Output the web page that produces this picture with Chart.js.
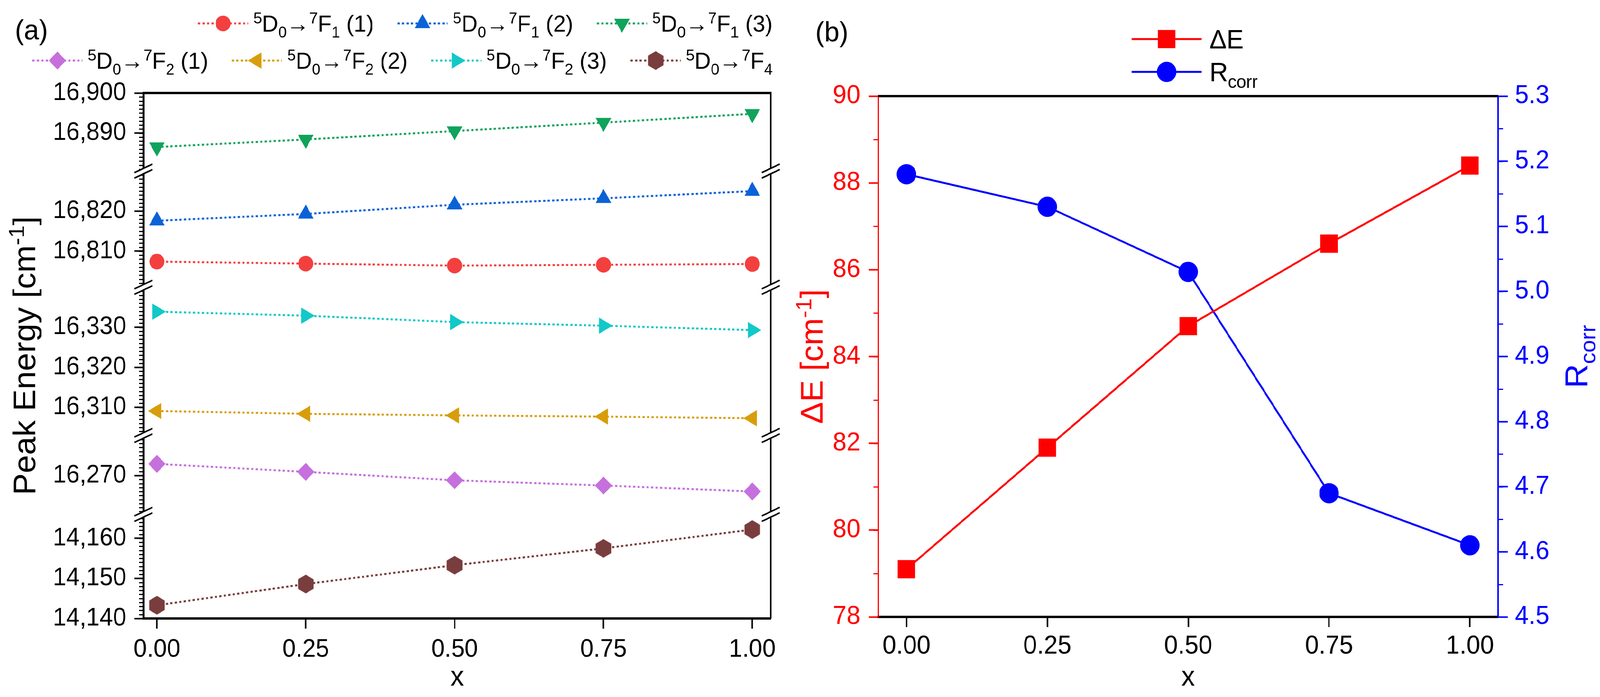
<!DOCTYPE html>
<html>
<head>
<meta charset="utf-8">
<script src="https://cdn.jsdelivr.net/npm/chart.js@4.4.1/dist/chart.umd.min.js"></script>
<style>
  html, body { margin: 0; padding: 0; background: #fff; overflow: hidden; }
  #wrap { position: relative; width: 4270px; height: 1784px; overflow: hidden; transform-origin: 0 0; }
  #chartA { position: absolute; left: 0; top: 0; }
  #chartB { position: absolute; left: 2100px; top: 0; }
</style>
</head>
<body>
<div id="wrap">
  <canvas id="chartA" width="2100" height="1784"></canvas>
  <canvas id="chartB" width="2170" height="1784"></canvas>
</div>
<script>
const FONT = '"Liberation Sans", Arial, Helvetica, sans-serif';

// ---- panel (a): peak energies vs x
const xValues = [0, 0.25, 0.5, 0.75, 1.0];
const seriesLabels = [
  '^{5}D_{0}→^{7}F_{1} (1)', '^{5}D_{0}→^{7}F_{1} (2)', '^{5}D_{0}→^{7}F_{1} (3)',
  '^{5}D_{0}→^{7}F_{2} (1)', '^{5}D_{0}→^{7}F_{2} (2)', '^{5}D_{0}→^{7}F_{2} (3)',
  '^{5}D_{0}→^{7}F_{4}'
];
const f1Peak1 = [16807.4, 16806.9, 16806.4, 16806.6, 16806.8];
const f1Peak2 = [16817.6, 16819.3, 16821.6, 16823.2, 16825.0];
const f1Peak3 = [16886.5, 16888.4, 16890.5, 16892.6, 16894.8];
const f2Peak1 = [16272.9, 16270.9, 16268.8, 16267.5, 16266.0];
const f2Peak2 = [16309.1, 16308.4, 16308.0, 16307.7, 16307.3];
const f2Peak3 = [16333.9, 16332.9, 16331.3, 16330.4, 16329.3];
const f4Peak = [14143.3, 14148.6, 14153.3, 14157.5, 14162.2];

// broken y axis, top segment first
const segmentRanges = [[16880.5, 16900], [16801, 16830], [16303, 16340], [16260.3, 16280], [14140, 14166]];
const segmentTicks = [[16890, 16900], [16810, 16820], [16310, 16320, 16330], [16270], [14140, 14150, 14160]];
const xTicks = [0, 0.25, 0.5, 0.75, 1];

// ---- panel (b)
const deltaE = [79.1, 81.9, 84.7, 86.6, 88.4];
const rCorr = [5.18, 5.13, 5.03, 4.69, 4.61];
const deltaETicks = [78, 80, 82, 84, 86, 88, 90];
const rCorrTicks = [4.5, 4.6, 4.7, 4.8, 4.9, 5.0, 5.1, 5.2, 5.3];
const labelsB = ['ΔE', 'R_{corr}'];

// the figure is laid out on a 4270 x 1784 grid; squeeze it if the window is smaller
(function fitPage() {
  const sx = Math.min(1, window.innerWidth / 4270);
  const sy = Math.min(1, window.innerHeight / 1784);
  if (sx < 1 || sy < 1) document.getElementById('wrap').style.transform = 'scale(' + sx + ',' + sy + ')';
})();

// ---- helpers
function hexMarker(R, color) {
  const c = document.createElement('canvas');
  const s = Math.ceil(2 * R + 4);
  c.width = s; c.height = s;
  const g = c.getContext('2d');
  g.fillStyle = color;
  g.beginPath();
  for (let i = 0; i < 6; i++) {
    const a = Math.PI / 3 * i - Math.PI / 2;
    const px = s / 2 + R * Math.cos(a), py = s / 2 + R * Math.sin(a);
    if (i) g.lineTo(px, py); else g.moveTo(px, py);
  }
  g.closePath();
  g.fill();
  return c;
}

const drawPoint = (Chart.helpers && Chart.helpers.drawPoint) || function (ctx, o, x, y) {
  ctx.beginPath(); ctx.arc(x, y, o.radius, 0, Math.PI * 2); ctx.fill();
};

function parseRich(str) {
  const runs = [];
  const re = /\^\{([^}]*)\}|_\{([^}]*)\}|([^^_]+)/g;
  let m;
  while ((m = re.exec(str))) {
    if (m[1] !== undefined) runs.push({t: m[1], k: 'sup'});
    else if (m[2] !== undefined) runs.push({t: m[2], k: 'sub'});
    else runs.push({t: m[3], k: 'n'});
  }
  return runs;
}
function runFont(size, k) {
  return (k === 'n' ? size : Math.round(size * 0.68)) + 'px ' + FONT;
}
function richWidth(ctx, str, size) {
  let w = 0;
  for (const r of parseRich(str)) { ctx.font = runFont(size, r.k); w += ctx.measureText(r.t).width; }
  return w;
}
// y is the cap-centre line of the text (in the rotated frame)
function drawRich(ctx, str, x, y, o) {
  const size = o.size;
  ctx.save();
  ctx.translate(x, y);
  if (o.rotation) ctx.rotate(o.rotation);
  ctx.fillStyle = o.color || '#000';
  ctx.textAlign = 'left';
  ctx.textBaseline = 'alphabetic';
  const w = richWidth(ctx, str, size);
  let cx = o.align === 'center' ? -w / 2 : (o.align === 'right' ? -w : 0);
  const base = (o.baseline !== undefined) ? o.baseline : size * 0.358;
  for (const r of parseRich(str)) {
    ctx.font = runFont(size, r.k);
    const dy = r.k === 'sup' ? -size * 0.36 : (r.k === 'sub' ? size * 0.25 : 0);
    ctx.fillText(r.t, cx, base + dy);
    cx += ctx.measureText(r.t).width;
  }
  ctx.restore();
  return w;
}

function drawMinor(chart, id, step, len, color, side) {
  const s = chart.scales[id];
  const ctx = chart.ctx;
  const x0 = side === 'left' ? s.right : s.left;
  const dir = side === 'left' ? -1 : 1;
  ctx.save();
  ctx.strokeStyle = color;
  ctx.lineWidth = 3;
  ctx.beginPath();
  const n0 = Math.ceil(s.min / step - 1e-6), n1 = Math.floor(s.max / step + 1e-6);
  for (let n = n0; n <= n1; n++) {
    const y = Math.round(s.getPixelForValue(n * step)) + 0.5;
    ctx.moveTo(x0, y);
    ctx.lineTo(x0 + dir * len, y);
  }
  ctx.stroke();
  ctx.restore();
}

function drawBreak(ctx, x, y) {
  const hx = 24, dy = 11, g = 7;
  ctx.save();
  ctx.fillStyle = '#fff';
  ctx.beginPath();
  ctx.moveTo(x - hx, y + g + dy); ctx.lineTo(x + hx, y + g - dy);
  ctx.lineTo(x + hx, y - g - dy); ctx.lineTo(x - hx, y - g + dy);
  ctx.closePath();
  ctx.fill();
  ctx.strokeStyle = '#000';
  ctx.lineWidth = 4;
  ctx.beginPath();
  ctx.moveTo(x - hx, y + g + dy); ctx.lineTo(x + hx, y + g - dy);
  ctx.moveTo(x - hx, y - g + dy); ctx.lineTo(x + hx, y - g - dy);
  ctx.stroke();
  ctx.restore();
}

function tickFont(size) { return {family: FONT, size: size}; }

// ---- chart (a)
const hexagon = hexMarker(24, '#7A3D3D');
const seriesValues = [f1Peak1, f1Peak2, f1Peak3, f2Peak1, f2Peak2, f2Peak3, f4Peak];
const styleA = [
  {color: '#F43F3F', point: 'circle', rotation: 0, radius: 20, axis: 's2'},
  {color: '#0B62D6', point: 'triangle', rotation: 0, radius: 24, axis: 's2'},
  {color: '#0FA35C', point: 'triangle', rotation: 180, radius: 24, axis: 's1'},
  {color: '#C670DD', point: 'rectRot', rotation: 0, radius: 23, axis: 's4'},
  {color: '#D89D0A', point: 'triangle', rotation: 270, radius: 24, axis: 's3'},
  {color: '#12C8C8', point: 'triangle', rotation: 90, radius: 24, axis: 's3'},
  {color: '#7A3D3D', point: hexagon, rotation: 0, radius: 24, axis: 's5'}
];

const scalesA = {
  x: {
    type: 'linear', position: 'bottom', min: -0.0225, max: 1.031,
    afterBuildTicks: s => { s.ticks = xTicks.map(v => ({value: v})); },
    afterFit: s => { s.height = 1784 - 1583; },
    border: {display: true, color: '#000', width: 6},
    grid: {display: true, drawOnChartArea: false, drawTicks: true, tickLength: 26, tickWidth: 4, tickColor: '#000'},
    ticks: {color: '#000', font: tickFont(64), padding: 16, maxRotation: 0, autoSkip: false,
      callback: v => Number(v).toFixed(2)}
  }
};
segmentRanges.forEach((r, i) => {
  scalesA['s' + (i + 1)] = {
    type: 'linear', position: 'left', stack: 'energy', stackWeight: r[1] - r[0], weight: 10 - i,
    min: r[0], max: r[1],
    afterBuildTicks: s => { s.ticks = segmentTicks[i].map(v => ({value: v})); },
    afterFit: s => { s.width = 383; },
    border: {display: true, color: '#000', width: 5},
    grid: {display: true, drawOnChartArea: false, drawTicks: true, tickLength: 24, tickWidth: 4, tickColor: '#000'},
    ticks: {color: '#000', font: tickFont(64), padding: 22, autoSkip: false,
      callback: v => Number(v).toLocaleString('en-US')}
  };
});

const decorA = {
  id: 'decorA',
  afterDraw(chart) {
    const ctx = chart.ctx;
    const a = chart.chartArea;
    segmentRanges.forEach((r, i) => drawMinor(chart, 's' + (i + 1), 1, 12, '#000', 'left'));
    ctx.save();
    ctx.strokeStyle = '#000';
    ctx.lineWidth = 6;
    ctx.beginPath(); ctx.moveTo(a.left - 2.5, a.top); ctx.lineTo(a.right + 2, a.top); ctx.stroke();
    ctx.lineWidth = 4;
    ctx.beginPath(); ctx.moveTo(a.right, a.top); ctx.lineTo(a.right, a.bottom); ctx.stroke();
    ctx.restore();
    for (let i = 1; i < segmentRanges.length; i++) {
      const y = chart.scales['s' + i].bottom;
      drawBreak(ctx, a.left, y);
      drawBreak(ctx, a.right, y);
    }
    // legend in two rows, right-aligned
    const rows = [[0, 1, 2], [3, 4, 5, 6]];
    const rowY = [60, 155];
    const size = 60, sample = 134, gap = 14, itemGap = 63, right = 2062;
    rows.forEach((row, ri) => {
      const widths = row.map(i => sample + gap + richWidth(ctx, seriesLabels[i], size));
      let x = right - widths.reduce((p, c) => p + c, 0) - itemGap * (row.length - 1);
      row.forEach((i, k) => {
        const st = styleA[i], y = rowY[ri];
        ctx.save();
        ctx.strokeStyle = st.color; ctx.lineWidth = 5; ctx.setLineDash([6, 6]);
        ctx.beginPath(); ctx.moveTo(x, y); ctx.lineTo(x + sample, y); ctx.stroke();
        ctx.setLineDash([]);
        ctx.fillStyle = st.color;
        drawPoint(ctx, {pointStyle: st.point, rotation: st.rotation, radius: st.radius, borderWidth: 0}, x + sample / 2, y);
        ctx.restore();
        drawRich(ctx, seriesLabels[i], x + sample + gap, y, {size: size, color: '#000'});
        x += widths[k] + itemGap;
      });
    });
    drawRich(ctx, 'Peak Energy [cm^{-1}]', 64, (a.top + a.bottom) / 2, {size: 84, rotation: -Math.PI / 2, align: 'center'});
    drawRich(ctx, 'x', (a.left + a.right) / 2, 1755, {size: 72, align: 'center', baseline: 0});
    drawRich(ctx, '(a)', 40, 75, {size: 72});
  }
};

new Chart(document.getElementById('chartA'), {
  type: 'line',
  data: {
    datasets: seriesValues.map((vals, i) => ({
      label: seriesLabels[i],
      data: vals.map((v, j) => ({x: xValues[j], y: v})),
      yAxisID: styleA[i].axis,
      borderColor: styleA[i].color,
      backgroundColor: styleA[i].color,
      borderWidth: 5,
      borderDash: [6, 6],
      pointStyle: styleA[i].point,
      pointRotation: styleA[i].rotation,
      pointRadius: styleA[i].radius,
      pointBorderWidth: 0,
      pointBackgroundColor: styleA[i].color,
      clip: false
    }))
  },
  options: {
    responsive: false, devicePixelRatio: 1, animation: false, events: [],
    layout: {padding: {left: 0, top: 238, right: 43, bottom: 0}},
    plugins: {legend: {display: false}, tooltip: {enabled: false}},
    scales: scalesA
  },
  plugins: [decorA]
});

// ---- chart (b)
const styleB = [
  {color: '#FF0000', point: 'rect', radius: 33, axis: 'yE'},
  {color: '#0000FF', point: 'circle', radius: 26, axis: 'yR'}
];

const decorB = {
  id: 'decorB',
  afterDraw(chart) {
    const ctx = chart.ctx;
    const a = chart.chartArea;
    drawMinor(chart, 'yE', 1, 13, '#FF0000', 'left');
    drawMinor(chart, 'yR', 0.05, 13, '#0000FF', 'right');
    ctx.save();
    ctx.strokeStyle = '#000'; ctx.lineWidth = 6;
    ctx.beginPath(); ctx.moveTo(a.left, a.top); ctx.lineTo(a.right, a.top); ctx.stroke();
    ctx.restore();
    const rowY = [100, 184];
    labelsB.forEach((lab, i) => {
      const st = styleB[i], y = rowY[i], x = 920, sample = 187;
      ctx.save();
      ctx.strokeStyle = st.color; ctx.lineWidth = 5;
      ctx.beginPath(); ctx.moveTo(x, y); ctx.lineTo(x + sample, y); ctx.stroke();
      ctx.fillStyle = st.color;
      drawPoint(ctx, {pointStyle: st.point, rotation: 0, radius: st.radius, borderWidth: 0}, x + sample / 2, y);
      ctx.restore();
      drawRich(ctx, lab, x + sample + 21, y, {size: 68, color: '#000'});
    });
    const midY = (a.top + a.bottom) / 2;
    drawRich(ctx, 'ΔE [cm^{-1}]', 65, midY, {size: 84, color: '#FF0000', rotation: -Math.PI / 2, align: 'center'});
    drawRich(ctx, 'R_{corr}', 2105, midY, {size: 86, color: '#0000FF', rotation: -Math.PI / 2, align: 'center'});
    drawRich(ctx, 'x', (a.left + a.right) / 2, 1755, {size: 72, align: 'center', baseline: 0});
    drawRich(ctx, '(b)', 76, 80, {size: 72});
  }
};

new Chart(document.getElementById('chartB'), {
  type: 'line',
  data: {
    datasets: [deltaE, rCorr].map((vals, i) => ({
      label: labelsB[i],
      data: vals.map((v, j) => ({x: xValues[j], y: v})),
      yAxisID: styleB[i].axis,
      borderColor: styleB[i].color,
      backgroundColor: styleB[i].color,
      borderWidth: 5,
      pointStyle: styleB[i].point,
      pointRadius: styleB[i].radius,
      pointBorderWidth: 0,
      pointBackgroundColor: styleB[i].color,
      clip: false
    }))
  },
  options: {
    responsive: false, devicePixelRatio: 1, animation: false, events: [],
    layout: {padding: {left: 0, top: 246, right: 0, bottom: 0}},
    plugins: {legend: {display: false}, tooltip: {enabled: false}},
    scales: {
      x: {
        type: 'linear', position: 'bottom', min: -0.05, max: 1.05,
        afterBuildTicks: s => { s.ticks = xTicks.map(v => ({value: v})); },
        afterFit: s => { s.height = 1784 - 1579; },
        border: {display: true, color: '#000', width: 6},
        grid: {display: true, drawOnChartArea: false, drawTicks: true, tickLength: 26, tickWidth: 4, tickColor: '#000'},
        ticks: {color: '#000', font: tickFont(66), padding: 10, maxRotation: 0, autoSkip: false,
          callback: v => Number(v).toFixed(2)}
      },
      yE: {
        type: 'linear', position: 'left', min: 78, max: 90,
        afterBuildTicks: s => { s.ticks = deltaETicks.map(v => ({value: v})); },
        afterFit: s => { s.width = 244; },
        border: {display: true, color: '#FF0000', width: 4},
        grid: {display: true, drawOnChartArea: false, drawTicks: true, tickLength: 26, tickWidth: 4, tickColor: '#FF0000'},
        ticks: {color: '#FF0000', font: tickFont(66), padding: 22, autoSkip: false, callback: v => String(v)}
      },
      yR: {
        type: 'linear', position: 'right', min: 4.5, max: 5.3,
        afterBuildTicks: s => { s.ticks = rCorrTicks.map(v => ({value: v})); },
        afterFit: s => { s.width = 272; },
        border: {display: true, color: '#0000FF', width: 4},
        grid: {display: true, drawOnChartArea: false, drawTicks: true, tickLength: 26, tickWidth: 4, tickColor: '#0000FF'},
        ticks: {color: '#0000FF', font: tickFont(66), padding: 19, autoSkip: false, callback: v => Number(v).toFixed(1)}
      }
    }
  },
  plugins: [decorB]
});
</script>
</body>
</html>
